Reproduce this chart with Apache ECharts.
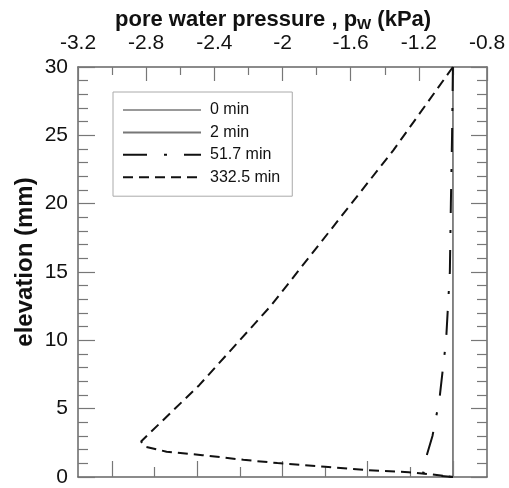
<!DOCTYPE html>
<html>
<head>
<meta charset="utf-8">
<script src="https://cdn.jsdelivr.net/npm/echarts@6/dist/echarts.min.js"></script>
<style>
  html, body { margin: 0; padding: 0; background: #fff; }
  #chart { width: 509px; height: 488px; }
</style>
</head>
<body>
<div id="chart"></div>
<script>
  // elevation (mm) vs pore water pressure (kPa)
  var seriesNames = ["0 min", "2 min", "51.7 min", "332.5 min"];

  var pw0 = [-1.0, -1.0];
  var elev0 = [0, 30];

  var pw2 = [-1.0, -1.0];
  var elev2 = [0, 30];

  var pw52 = [-1.0, -1.005, -1.012, -1.018, -1.04, -1.08, -1.12, -1.165, -1.175, -1.1, -1.0];
  var elev52 = [30, 25, 20, 15, 10, 5.6, 3, 1.1, 0.3, 0.12, 0];

  var pw332 = [-1.0, -1.35, -1.71, -2.07, -2.49, -2.83, -2.8, -2.68, -2.47, -2.23, -2.03, -1.75, -1.5, -1.26, -1.12, -1.0];
  var elev332 = [30, 23.9, 18.2, 12.5, 6.7, 2.6, 2.2, 1.85, 1.6, 1.26, 1.02, 0.75, 0.5, 0.35, 0.18, 0];

  var bottomLongTicks = [-3.0, -2.5, -2.0, -1.5, -1.0];
  var bottomShortTicks = [-2.75, -2.25, -1.75, -1.25];

  function pairs(xs, ys) {
    return xs.map(function (x, i) { return [x, ys[i]]; });
  }

  var frame = { show: true, onZero: false, lineStyle: { color: "#666", width: 1.5 } };
  var tickColor = "#777";
  var font = "Arial, 'Liberation Sans', sans-serif";

  var chart = echarts.init(document.getElementById("chart"));

  var option = {
    animation: false,
    textStyle: { fontFamily: font },
    title: {
      text: "{a|pore water pressure , p}{s|W}{a| (kPa)}",
      left: 110,
      top: 3,
      textStyle: {
        rich: {
          a: { fontSize: 22, fontWeight: "bold", color: "#111", fontFamily: font },
          s: { fontSize: 15, fontWeight: "bold", color: "#111", fontFamily: font, padding: [9, 0, 0, 0] }
        }
      }
    },
    graphic: [{
      type: "text",
      x: 25,
      y: 262,
      rotation: Math.PI / 2,
      style: {
        text: "elevation (mm)",
        font: "bold 24px " + font,
        fill: "#111",
        textAlign: "center",
        textVerticalAlign: "middle"
      }
    }],
    legend: {
      orient: "vertical",
      left: 113,
      top: 92,
      padding: [10, 12, 11, 9],
      itemWidth: 78,
      itemHeight: 14,
      itemGap: 6.4,
      borderColor: "#aaa",
      borderWidth: 1,
      backgroundColor: "#fff",
      itemStyle: { opacity: 0 },
      textStyle: { fontSize: 16, color: "#111", fontFamily: font, padding: [0, 0, 0, 4] },
      data: seriesNames
    },
    grid: { left: 78, right: 22, top: 67, bottom: 11 },
    xAxis: [
      {
        type: "value",
        position: "top",
        min: -3.2,
        max: -0.8,
        interval: 0.4,
        axisLine: frame,
        axisTick: { inside: true, length: 14, lineStyle: { color: tickColor, width: 1.2 } },
        minorTick: { show: true, splitNumber: 2, length: 8, lineStyle: { color: tickColor, width: 1.2 } },
        axisLabel: { fontSize: 21, color: "#111", margin: 13, showMinLabel: true, showMaxLabel: true },
        splitLine: { show: false }
      },
      {
        type: "value",
        position: "bottom",
        min: -3.2,
        max: -0.8,
        axisLine: frame,
        axisTick: { inside: true, length: 16, customValues: bottomLongTicks, lineStyle: { color: tickColor, width: 1.2 } },
        axisLabel: { show: false },
        splitLine: { show: false }
      },
      {
        type: "value",
        position: "bottom",
        min: -3.2,
        max: -0.8,
        axisLine: { show: false, onZero: false },
        axisTick: { inside: true, length: 10, customValues: bottomShortTicks, lineStyle: { color: tickColor, width: 1.2 } },
        axisLabel: { show: false },
        splitLine: { show: false }
      }
    ],
    yAxis: [
      {
        type: "value",
        position: "left",
        min: 0,
        max: 30,
        interval: 5,
        axisLine: frame,
        axisTick: { inside: true, length: 17, lineStyle: { color: tickColor, width: 1.2 } },
        minorTick: { show: true, splitNumber: 5, length: 10, lineStyle: { color: tickColor, width: 1.2 } },
        axisLabel: { fontSize: 21, color: "#111", margin: 10 },
        splitLine: { show: false }
      },
      {
        type: "value",
        position: "right",
        min: 0,
        max: 30,
        interval: 5,
        axisLine: frame,
        axisTick: { inside: true, length: 16, lineStyle: { color: tickColor, width: 1.2 } },
        minorTick: { show: true, splitNumber: 5, length: 10, lineStyle: { color: tickColor, width: 1.2 } },
        axisLabel: { show: false },
        splitLine: { show: false }
      }
    ],
    series: [
      {
        name: seriesNames[0],
        type: "line",
        symbol: "none",
        color: "#999",
        lineStyle: { color: "#999", width: 1.5 },
        data: pairs(pw0, elev0)
      },
      {
        name: seriesNames[1],
        type: "line",
        symbol: "none",
        color: "#777",
        lineStyle: { color: "#777", width: 1.5 },
        data: pairs(pw2, elev2)
      },
      {
        name: seriesNames[2],
        type: "line",
        symbol: "none",
        color: "#111",
        lineStyle: { color: "#111", width: 2, type: [24, 17, 3, 17] },
        data: pairs(pw52, elev52)
      },
      {
        name: seriesNames[3],
        type: "line",
        symbol: "none",
        color: "#111",
        lineStyle: { color: "#111", width: 2, type: [10, 6] },
        data: pairs(pw332, elev332)
      }
    ]
  };

  chart.setOption(option);
</script>
</body>
</html>
